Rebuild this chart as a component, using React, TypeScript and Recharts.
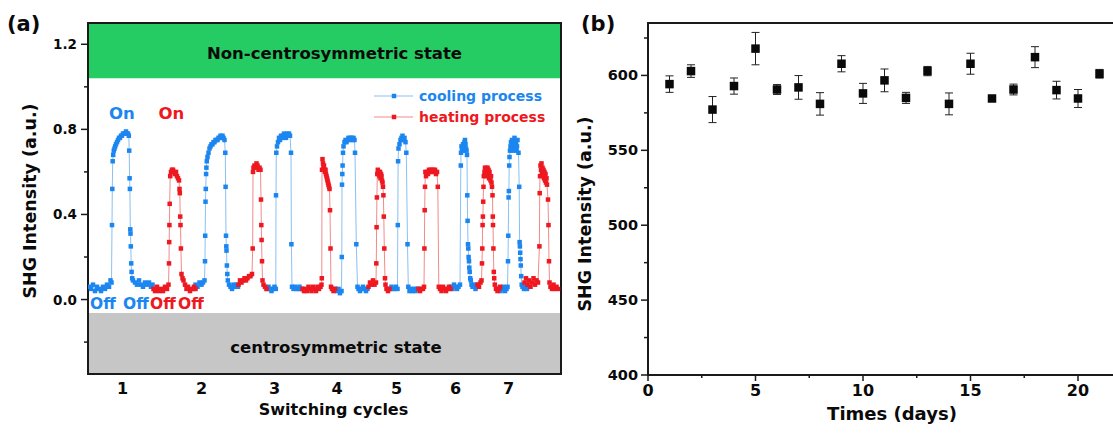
import {
  LineChart,
  Line,
  ScatterChart,
  Scatter,
  ErrorBar,
  XAxis,
  YAxis,
  ReferenceArea,
} from "recharts";

// panel (a): SHG switching, x is an arbitrary scan index, y in a.u.
const coolSeg1 = [
  [89, 0.06], [91, 0.05], [93, 0.07], [95, 0.04], [97, 0.06], [99, 0.05], [101, 0.04], [103, 0.06], [105, 0.05], [107, 0.07], [109, 0.06], [110.5, 0.09], [111.5, 0.08],
  [112, 0.35], [112.3, 0.52], [112.7, 0.65], [113.2, 0.68], [113.8, 0.7], [114.5, 0.71], [115.2, 0.72], [116, 0.73], [117, 0.74], [118, 0.75], [119, 0.76], [120, 0.76], [121, 0.77], [122, 0.77], [123, 0.78], [124, 0.78], [125, 0.78], [126, 0.79], [127, 0.78], [128, 0.78], [128.8, 0.77],
  [129.2, 0.7], [129.6, 0.57], [129.9, 0.52], [130.3, 0.33], [130.5, 0.31], [130.8, 0.25], [131.2, 0.17], [131.6, 0.13], [132.2, 0.1],
  [133, 0.09], [135, 0.08], [137, 0.07], [139, 0.09], [141, 0.07], [143, 0.06], [145, 0.08], [147, 0.07], [149, 0.08], [151, 0.06], [152.5, 0.07],
];
const coolSeg2 = [
  [193.5, 0.05], [195.5, 0.07], [197.5, 0.06], [199.5, 0.08], [201.5, 0.07], [203, 0.08], [204.5, 0.09],
  [205, 0.18], [205.2, 0.3], [205.5, 0.46], [205.8, 0.52], [206.1, 0.59], [206.4, 0.62], [206.8, 0.65], [207.5, 0.67], [208.5, 0.69], [209.5, 0.71], [210.5, 0.72], [211.5, 0.73], [212.5, 0.73], [213.5, 0.74], [214.5, 0.74], [215.5, 0.75], [216.5, 0.75], [217.5, 0.75], [218.5, 0.76], [219.5, 0.76], [220.5, 0.77], [221.5, 0.76], [222.5, 0.77], [223.5, 0.76], [224.5, 0.75],
  [225.3, 0.69], [225.6, 0.53], [226, 0.3], [226.3, 0.25], [226.5, 0.23], [226.9, 0.16], [227.3, 0.12], [227.8, 0.09],
  [229, 0.07], [230.5, 0.06], [232, 0.05], [233.5, 0.07], [235, 0.06], [236.5, 0.07], [238, 0.06],
];
const coolSeg3 = [
  [267, 0.05], [268.5, 0.06], [270, 0.05], [271.5, 0.04], [273, 0.05], [274.5, 0.06], [275.8, 0.05],
  [276, 0.49], [276.3, 0.69],
  [277, 0.72], [278, 0.74], [279, 0.76], [280, 0.75], [281, 0.77], [282, 0.76], [283, 0.77], [284, 0.78], [285, 0.77], [286, 0.76], [287, 0.78], [288, 0.77], [289, 0.78], [290, 0.77], [291, 0.69],
  [291.4, 0.26], [292, 0.06],
  [293.5, 0.05], [295, 0.06], [296.5, 0.05], [298, 0.05], [299.5, 0.06], [301, 0.05], [302, 0.05],
];
const coolSeg4 = [
  [335.5, 0.05], [337, 0.04], [338.5, 0.05], [340, 0.03], [341.5, 0.04],
  [341.8, 0.2], [342, 0.54], [342.3, 0.59], [342.6, 0.63], [343, 0.69], [343.5, 0.72],
  [344.5, 0.74], [345.5, 0.75], [346.5, 0.74], [347.5, 0.75], [348.5, 0.76], [349.5, 0.75], [350.5, 0.76], [351.5, 0.76], [352.5, 0.75], [353.5, 0.76], [354.5, 0.75],
  [355, 0.69], [356.3, 0.26], [357.5, 0.06],
  [358.5, 0.05], [360, 0.04], [361.5, 0.05], [363, 0.06], [364.5, 0.05], [366, 0.04], [367.5, 0.05],
];
const coolSeg5 = [
  [390, 0.05], [391.5, 0.06], [393, 0.05], [394.5, 0.05], [396, 0.06], [397.5, 0.05],
  [397.8, 0.35], [398.1, 0.65], [398.5, 0.71],
  [399.5, 0.73], [400.5, 0.75], [401.5, 0.76], [402.5, 0.77], [403.5, 0.75], [404.5, 0.76], [405.5, 0.74],
  [406.3, 0.69], [407.5, 0.26], [408.3, 0.06],
  [409.5, 0.04], [411, 0.05], [412.5, 0.04], [414, 0.05], [415.5, 0.04], [417, 0.05], [418, 0.05],
];
const coolSeg6 = [
  [451, 0.06], [452.5, 0.05], [454, 0.07], [455.5, 0.06], [457, 0.05], [458.5, 0.06], [460, 0.07],
  [460.8, 0.63], [461, 0.69],
  [461.5, 0.72], [462, 0.7], [462.5, 0.71], [463, 0.73], [463.5, 0.7], [464, 0.72], [464.5, 0.74], [465, 0.75], [465.5, 0.73], [466, 0.71], [466.5, 0.7], [467, 0.68],
  [467.3, 0.49], [467.6, 0.37], [468, 0.26], [468.3, 0.24], [468.6, 0.2], [469, 0.18], [469.3, 0.15], [469.7, 0.13], [470.2, 0.1], [470.8, 0.09], [471.5, 0.07],
  [472.5, 0.06], [474, 0.07], [475.5, 0.05], [477, 0.06], [478, 0.07],
];
const coolSeg7 = [
  [499, 0.05], [500.5, 0.04], [502, 0.05], [503.5, 0.06], [505, 0.04], [506.5, 0.05], [507.5, 0.06],
  [508, 0.18], [508.3, 0.3], [508.6, 0.48], [508.9, 0.51], [509.2, 0.63], [509.5, 0.67],
  [510, 0.7], [510.5, 0.72], [511, 0.74], [511.5, 0.71], [512, 0.75], [512.5, 0.73], [513, 0.7], [513.5, 0.74], [514, 0.72], [514.5, 0.76], [515, 0.73], [515.5, 0.71], [516, 0.74], [516.5, 0.7], [517, 0.72], [517.5, 0.75],
  [518.5, 0.69], [519.2, 0.53], [519.6, 0.27], [519.9, 0.25], [520.2, 0.22], [520.5, 0.19], [520.8, 0.16], [521.2, 0.11], [521.7, 0.07],
  [522.5, 0.06], [524, 0.05], [525.5, 0.06], [527, 0.05],
];

const heatSeg1 = [
  [153.5, 0.05], [155, 0.04], [157, 0.06], [159, 0.04], [161, 0.05], [163, 0.04], [165, 0.06], [167, 0.05], [168.5, 0.07],
  [169, 0.17], [169.2, 0.27], [169.4, 0.35], [169.7, 0.45], [170.2, 0.58],
  [171, 0.6], [172, 0.61], [173, 0.61], [174, 0.6], [175, 0.59], [176, 0.6], [177, 0.58], [178, 0.57], [179, 0.56],
  [179.5, 0.52], [179.8, 0.5], [180.2, 0.39], [180.5, 0.35], [180.9, 0.24], [181.5, 0.12],
  [182.5, 0.1], [183.5, 0.09], [185, 0.07], [186.5, 0.05], [188, 0.06], [190, 0.04], [192, 0.05], [194, 0.06], [195.5, 0.05],
];
const heatSeg2 = [
  [238.5, 0.07], [240, 0.09], [241.5, 0.08], [243, 0.09], [244.5, 0.1], [246, 0.09], [247.5, 0.1], [249, 0.11], [250.5, 0.11], [252, 0.12],
  [252.7, 0.24], [253, 0.6],
  [253.5, 0.62], [254.5, 0.63], [255.5, 0.62], [256.5, 0.64], [257.5, 0.63], [258.5, 0.61], [259.5, 0.62], [260.5, 0.61],
  [261, 0.47], [261.3, 0.35], [261.6, 0.28], [262, 0.18], [262.5, 0.09],
  [263.5, 0.07], [265, 0.06], [266.5, 0.05],
];
const heatSeg3 = [
  [302.5, 0.05], [304, 0.04], [305.5, 0.05], [307, 0.04], [308.5, 0.06], [310, 0.05], [311.5, 0.04], [313, 0.06], [314.5, 0.05], [316, 0.04], [317.5, 0.06], [319, 0.05], [320.5, 0.06], [321.5, 0.07],
  [321.8, 0.1], [322, 0.61],
  [322.5, 0.66], [323, 0.64], [323.5, 0.62], [324, 0.63], [324.5, 0.61], [325, 0.6], [325.5, 0.61], [326, 0.59], [326.5, 0.58], [327, 0.57], [327.5, 0.56], [328, 0.55], [328.5, 0.54], [329, 0.53], [329.5, 0.52],
  [330, 0.42], [330.5, 0.24], [331, 0.06],
  [332, 0.05], [333.5, 0.04], [335, 0.05],
];
const heatSeg4 = [
  [368.5, 0.06], [370, 0.08], [371.5, 0.07], [373, 0.09], [374.5, 0.07], [376, 0.08],
  [376.3, 0.17], [376.6, 0.34], [376.9, 0.48], [377.3, 0.59],
  [377.8, 0.61], [378.5, 0.59], [379, 0.6], [379.5, 0.58], [380, 0.6], [380.5, 0.57], [381, 0.59], [381.5, 0.58], [382, 0.56], [382.5, 0.55],
  [383, 0.53], [383.4, 0.49], [383.8, 0.39], [384.3, 0.24], [385, 0.1], [385.5, 0.07],
  [386.5, 0.05], [388, 0.04], [389.5, 0.05],
];
const heatSeg5 = [
  [418.5, 0.05], [420, 0.04], [421.5, 0.05], [423, 0.05], [424, 0.06],
  [424.4, 0.24], [424.7, 0.42], [425, 0.53], [425.4, 0.6],
  [426, 0.58], [427, 0.6], [428, 0.59], [429, 0.61], [430, 0.6], [431, 0.61], [432, 0.6], [433, 0.61], [434, 0.6], [435, 0.61], [436, 0.59], [437, 0.6],
  [437.8, 0.53], [438.8, 0.06],
  [440, 0.05], [441.5, 0.04], [443, 0.06], [444.5, 0.05], [446, 0.04], [447.5, 0.05], [449, 0.06], [450.5, 0.05],
];
const heatSeg6 = [
  [477.5, 0.07], [479, 0.06], [480.5, 0.08], [481.5, 0.09],
  [482, 0.17], [482.3, 0.24], [482.6, 0.35], [482.9, 0.39], [483.2, 0.46], [483.5, 0.53], [483.8, 0.58],
  [484.5, 0.6], [485, 0.62], [485.5, 0.59], [486, 0.61], [486.5, 0.58], [487, 0.6], [487.5, 0.62], [488, 0.59], [488.5, 0.61], [489, 0.57], [489.5, 0.6], [490, 0.58], [490.5, 0.56], [491, 0.58], [491.5, 0.55], [492, 0.53],
  [492.5, 0.49], [492.8, 0.39], [493, 0.35], [493.4, 0.24], [493.8, 0.13], [494.2, 0.1], [494.8, 0.07],
  [496, 0.05], [497.5, 0.04], [499, 0.05], [500, 0.06],
];
const heatSeg7 = [
  [524.5, 0.08], [526, 0.1], [527.5, 0.07], [529, 0.09], [530.5, 0.06], [532, 0.08], [533.5, 0.1], [535, 0.07], [536.5, 0.09], [538, 0.08],
  [539.4, 0.25], [539.7, 0.5], [540, 0.58],
  [540.5, 0.63], [541, 0.61], [541.5, 0.64], [542, 0.6], [542.5, 0.62], [543, 0.58], [543.5, 0.61], [544, 0.57], [544.5, 0.6], [545, 0.56], [545.5, 0.59], [546, 0.55], [546.5, 0.57], [547, 0.54],
  [548, 0.47], [548.5, 0.35], [549, 0.18], [549.5, 0.08],
  [550.5, 0.06], [552, 0.05], [553.5, 0.07], [555, 0.05], [556.5, 0.06], [558, 0.05],
];

const cycleTickX = [122.5, 201.5, 274.5, 337, 396.5, 455.5, 508.5];
const cycleLabels = ["1", "2", "3", "4", "5", "6", "7"];
const yTicksA = [-0.2, 0, 0.2, 0.4, 0.6, 0.8, 1.0, 1.2];
const yLabelsA = ["", "0.0", "", "0.4", "", "0.8", "", "1.2"];

// panel (b): stability over days
const days = [1, 2, 3, 4, 5, 6, 7, 8, 9, 10, 11, 12, 13, 14, 15, 16, 17, 18, 19, 20, 21];
const shg = [594.2, 602.9, 577.2, 592.9, 617.9, 590.6, 592.0, 581.0, 607.8, 588.0, 596.7, 585.0, 602.9, 581.0, 607.8, 584.6, 590.6, 612.2, 590.2, 584.6, 601.1];
const shgErr = [5.5, 4.2, 8.7, 5.4, 10.8, 3.3, 7.9, 7.5, 5.4, 6.7, 7.6, 3.7, 3.1, 7.3, 7.0, 2.0, 3.6, 7.0, 5.9, 6.0, 2.9];
const xTicksB = [0, 2.5, 5, 7.5, 10, 12.5, 15, 17.5, 20];
const yTicksB = [400, 425, 450, 475, 500, 525, 550, 575, 600, 625];

const BLUE = "#1c86f0";
const BLUE_LINE = "#8cc0f2";
const RED = "#ee1820";
const RED_LINE = "#f28a8a";
const FRAME = "#1a1a1a";
const INK = "#0a0a0a";
const FONT = '"DejaVu Sans", "Liberation Sans", sans-serif';

function toRows(segments: number[][][]) {
  const rows: { x: number; y: number | null }[] = [];
  segments.forEach((seg, i) => {
    if (i > 0) rows.push({ x: seg[0][0], y: null });
    seg.forEach(([x, y]) => rows.push({ x, y }));
  });
  return rows;
}

const coolingData = toRows([coolSeg1, coolSeg2, coolSeg3, coolSeg4, coolSeg5, coolSeg6, coolSeg7]);
const heatingData = toRows([heatSeg1, heatSeg2, heatSeg3, heatSeg4, heatSeg5, heatSeg6, heatSeg7]);
const stabilityData = days.map((day, i) => ({ day, v: shg[i], err: shgErr[i] }));

function squareDot(color: string, size: number) {
  return (props: any) => {
    const { cx, cy, index, payload } = props;
    if (cy == null || cx == null || payload?.y === null) return <g key={`e${index}`} />;
    return <rect key={`d${index}`} x={cx - size / 2} y={cy - size / 2} width={size} height={size} fill={color} />;
  };
}

function YTickA({ x, y, payload }: any) {
  const label = yLabelsA[yTicksA.indexOf(payload.value)];
  const len = label ? 7 : 4;
  return (
    <g>
      <line x1={x - len} x2={x} y1={y} y2={y} stroke={FRAME} strokeWidth={1.5} />
      {label && (
        <text x={x - 11} y={y} dy={5} textAnchor="end" fontSize={13.5} fontWeight="bold" fill={INK} fontFamily={FONT}>
          {label}
        </text>
      )}
    </g>
  );
}

function XTickA({ x, y, payload }: any) {
  const label = cycleLabels[cycleTickX.indexOf(payload.value)];
  return (
    <text x={x} y={y} dy={20} textAnchor="middle" fontSize={16} fontWeight="bold" fill={INK} fontFamily={FONT}>
      {label}
    </text>
  );
}

function YTickB({ x, y, payload }: any) {
  const major = payload.value % 50 === 0;
  const len = major ? 7 : 4;
  return (
    <g>
      <line x1={x - len} x2={x} y1={y} y2={y} stroke={FRAME} strokeWidth={1.5} />
      {major && (
        <text x={x - 10} y={y} dy={5} textAnchor="end" fontSize={14.5} fontWeight="bold" fill={INK} fontFamily={FONT}>
          {payload.value}
        </text>
      )}
    </g>
  );
}

function XTickB({ x, y, payload }: any) {
  const major = payload.value % 5 === 0;
  const len = major ? 6 : 3;
  return (
    <g>
      <line x1={x} x2={x} y1={y} y2={y + len} stroke={FRAME} strokeWidth={1.5} />
      {major && (
        <text x={x} y={y} dy={21} textAnchor="middle" fontSize={16} fontWeight="bold" fill={INK} fontFamily={FONT}>
          {payload.value}
        </text>
      )}
    </g>
  );
}

function SquareMarker(props: any) {
  const { cx, cy } = props;
  return <rect x={cx - 4.25} y={cy - 4.25} width={8.5} height={8.5} fill={INK} />;
}

function Annotations() {
  const bold = { fontFamily: FONT, fontWeight: "bold" as const };
  return (
    <svg width={1113} height={434} style={{ position: "absolute", left: 0, top: 0, pointerEvents: "none" }}>
      <text x={7} y={31} fontSize={21} {...bold} fill={INK}>(a)</text>
      <text x={581} y={31} fontSize={21} {...bold} fill={INK}>(b)</text>

      <text x={334.5} y={59} textAnchor="middle" fontSize={16.5} {...bold} fill={INK}>Non-centrosymmetric state</text>
      <text x={336} y={353} textAnchor="middle" fontSize={16.5} {...bold} fill={INK}>centrosymmetric state</text>

      <text x={109} y={119} fontSize={16.5} {...bold} fill={BLUE}>On</text>
      <text x={158.5} y={119} fontSize={16.5} {...bold} fill={RED}>On</text>
      <text x={90} y={309} fontSize={15.5} {...bold} fill={BLUE}>Off</text>
      <text x={123} y={309} fontSize={15.5} {...bold} fill={BLUE}>Off</text>
      <text x={150} y={309} fontSize={15.5} {...bold} fill={RED}>Off</text>
      <text x={178} y={309} fontSize={15.5} {...bold} fill={RED}>Off</text>

      <line x1={374} x2={413} y1={96} y2={96} stroke={BLUE_LINE} strokeWidth={1.2} />
      <rect x={391.75} y={93.75} width={4.5} height={4.5} fill={BLUE} />
      <text x={419} y={101} fontSize={14} {...bold} fill={BLUE}>cooling process</text>
      <line x1={374} x2={413} y1={117} y2={117} stroke={RED_LINE} strokeWidth={1.2} />
      <rect x={391.75} y={114.75} width={4.5} height={4.5} fill={RED} />
      <text x={419} y={122} fontSize={14} {...bold} fill={RED}>heating process</text>

      <text transform="translate(30,201) rotate(-90)" textAnchor="middle" dominantBaseline="central" fontSize={17.5} {...bold} fill={INK}>
        SHG Intensity (a.u.)
      </text>
      <text x={333.5} y={415} textAnchor="middle" fontSize={16} {...bold} fill={INK}>Switching cycles</text>

      <text transform="translate(585,214) rotate(-90)" textAnchor="middle" dominantBaseline="central" fontSize={17.5} {...bold} fill={INK}>
        SHG Intensity (a.u.)
      </text>
      <text x={892} y={420} textAnchor="middle" fontSize={18} {...bold} fill={INK}>Times (days)</text>
    </svg>
  );
}

export default function App() {
  return (
    <div
      style={{
        position: "absolute",
        left: 0,
        top: 0,
        width: 1113,
        height: 434,
        overflow: "hidden",
        background: "#fff",
        fontFamily: FONT,
      }}
    >
      <div style={{ position: "absolute", left: 0, top: 0 }}>
        <LineChart width={580} height={434} margin={{ top: 23, right: 19, bottom: 30, left: 38 }}>
          <XAxis
            dataKey="x"
            type="number"
            domain={[88, 561]}
            ticks={cycleTickX}
            interval={0}
            allowDataOverflow
            axisLine={false}
            tickLine={false}
            tickSize={0}
            tickMargin={0}
            height={30}
            tick={<XTickA />}
          />
          <YAxis
            type="number"
            domain={[-0.35, 1.3]}
            ticks={yTicksA}
            interval={0}
            allowDataOverflow
            axisLine={false}
            tickLine={false}
            tickSize={0}
            tickMargin={0}
            width={50}
            tick={<YTickA />}
          />
          <ReferenceArea x1={88} x2={561} y1={1.04} y2={1.3} fill="#25cc64" fillOpacity={1} stroke="none" />
          <ReferenceArea x1={88} x2={561} y1={-0.35} y2={-0.063} fill="#c6c6c6" fillOpacity={1} stroke="none" />
          <Line
            data={coolingData}
            dataKey="y"
            stroke={BLUE_LINE}
            strokeWidth={1}
            dot={squareDot(BLUE, 4.5)}
            connectNulls={false}
            isAnimationActive={false}
          />
          <Line
            data={heatingData}
            dataKey="y"
            stroke={RED_LINE}
            strokeWidth={1}
            dot={squareDot(RED, 4.5)}
            connectNulls={false}
            isAnimationActive={false}
          />
          <ReferenceArea x1={88} x2={561} y1={-0.35} y2={1.3} fill="none" stroke={FRAME} strokeWidth={2} />
        </LineChart>
      </div>

      <div style={{ position: "absolute", left: 590, top: 0 }}>
        <ScatterChart width={560} height={434} margin={{ top: 23, right: 29, bottom: 29, left: 8 }}>
          <XAxis
            dataKey="day"
            type="number"
            domain={[0, 22]}
            ticks={xTicksB}
            interval={0}
            allowDataOverflow
            axisLine={false}
            tickLine={false}
            tickSize={0}
            tickMargin={0}
            height={30}
            tick={<XTickB />}
          />
          <YAxis
            dataKey="v"
            type="number"
            domain={[400, 635]}
            ticks={yTicksB}
            interval={0}
            allowDataOverflow
            axisLine={false}
            tickLine={false}
            tickSize={0}
            tickMargin={0}
            width={50}
            tick={<YTickB />}
          />
          <Scatter data={stabilityData} shape={<SquareMarker />} isAnimationActive={false}>
            <ErrorBar dataKey="err" direction="y" width={4} stroke="#222" strokeWidth={1} isAnimationActive={false} />
          </Scatter>
          <ReferenceArea x1={0} x2={22} y1={400} y2={635} fill="none" stroke={FRAME} strokeWidth={2} />
        </ScatterChart>
      </div>

      <Annotations />
    </div>
  );
}
